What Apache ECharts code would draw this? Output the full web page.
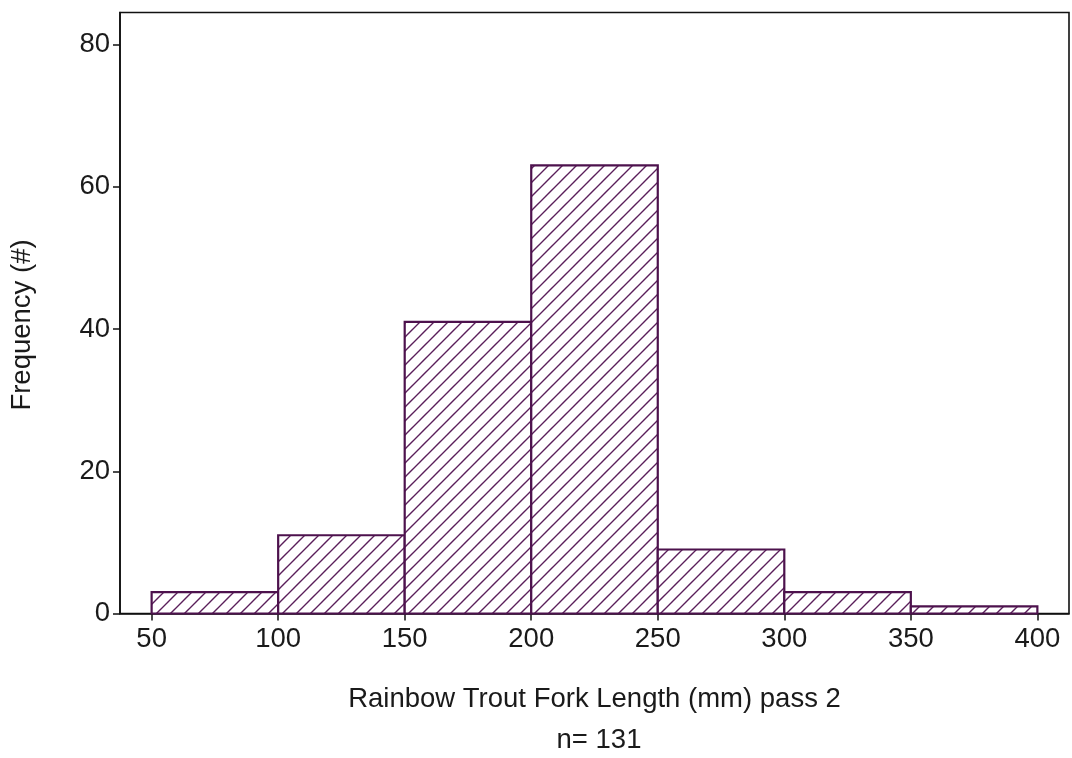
<!DOCTYPE html>
<html>
<head>
<meta charset="utf-8">
<script src="https://cdn.jsdelivr.net/npm/echarts@6/dist/echarts.min.js"></script>
<style>
  html, body { margin: 0; padding: 0; background: #ffffff; }
  #chart { width: 1072px; height: 758px; }
</style>
</head>
<body>
<div id="chart"></div>
<script>
// ---- data ----
const binStarts = [50, 100, 150, 200, 250, 300, 350];
const binEnds   = [100, 150, 200, 250, 300, 350, 400];
const counts    = [3, 11, 41, 63, 9, 3, 1];
const xTicks    = [50, 100, 150, 200, 250, 300, 350, 400];
const yTicks    = [0, 20, 40, 60, 80];
const xTitle    = 'Rainbow Trout Fork Length (mm) pass 2';
const yTitle    = 'Frequency (#)';
const nLabel    = 'n= 131';

// hatch pattern
const P = 14;
const pat = document.createElement('canvas');
pat.width = P; pat.height = P;
const g = pat.getContext('2d');
g.fillStyle = '#ffffff';
g.fillRect(0, 0, P, P);
g.strokeStyle = '#5a1f5a';
g.lineWidth = 1.4;
g.beginPath();
g.moveTo(-2, P + 2); g.lineTo(P + 2, -2);
g.moveTo(-2, 2); g.lineTo(2, -2);
g.moveTo(P - 2, P + 2); g.lineTo(P + 2, P - 2);
g.stroke();

const barData = binStarts.map((s, i) => [s, binEnds[i], counts[i]]);

const FONT = 'Liberation Sans';
const TXT = '#1a1a1a';
const FS = 27.5;

const chart = echarts.init(document.getElementById('chart'), null, { renderer: 'canvas' });
chart.setOption({
  animation: false,
  backgroundColor: '#ffffff',
  title: {
    text: nLabel,
    left: 594, top: 721, textAlign: 'center',
    textStyle: { fontFamily: FONT, fontSize: FS, fontWeight: 'normal', color: TXT }
  },
  grid: {
    left: 119, right: 3, top: 12.5, bottom: 144.5,
    show: true, borderColor: '#111', borderWidth: 1.6, backgroundColor: 'transparent'
  },
  xAxis: {
    type: 'value', min: 37.5, max: 412.5,
    name: xTitle, nameLocation: 'middle', nameGap: 72,
    nameTextStyle: { fontFamily: FONT, fontSize: FS, color: TXT },
    axisLine: { show: true, lineStyle: { color: '#111', width: 1.6 } },
    axisTick: { show: true, length: 7, inside: false, customValues: xTicks, lineStyle: { color: '#111', width: 1.5 } },
    axisLabel: { customValues: xTicks, fontFamily: FONT, fontSize: FS, color: TXT, margin: 12 },
    splitLine: { show: false }
  },
  yAxis: {
    type: 'value', min: 0, max: 84.5,
    name: yTitle, nameLocation: 'middle', nameGap: 84, nameRotate: 90,
    nameTextStyle: { fontFamily: FONT, fontSize: FS, color: TXT, padding: [0, 24, 0, 0] },
    axisLine: { show: true, lineStyle: { color: '#111', width: 1.6 } },
    axisTick: { show: true, length: 7, inside: false, customValues: yTicks, lineStyle: { color: '#111', width: 1.5 } },
    axisLabel: { customValues: yTicks, fontFamily: FONT, fontSize: FS, color: TXT, margin: 10 },
    splitLine: { show: false }
  },
  series: [{
    type: 'custom',
    data: barData,
    encode: { x: [0, 1], y: 2 },
    renderItem: function (params, api) {
      const p0 = api.coord([api.value(0), api.value(2)]);
      const p1 = api.coord([api.value(1), 0]);
      return {
        type: 'rect',
        shape: { x: p0[0], y: p0[1], width: p1[0] - p0[0], height: p1[1] - p0[1] },
        style: {
          fill: { image: pat, repeat: 'repeat' },
          stroke: '#4d124d',
          lineWidth: 2.2
        }
      };
    }
  }]
});
</script>
</body>
</html>
